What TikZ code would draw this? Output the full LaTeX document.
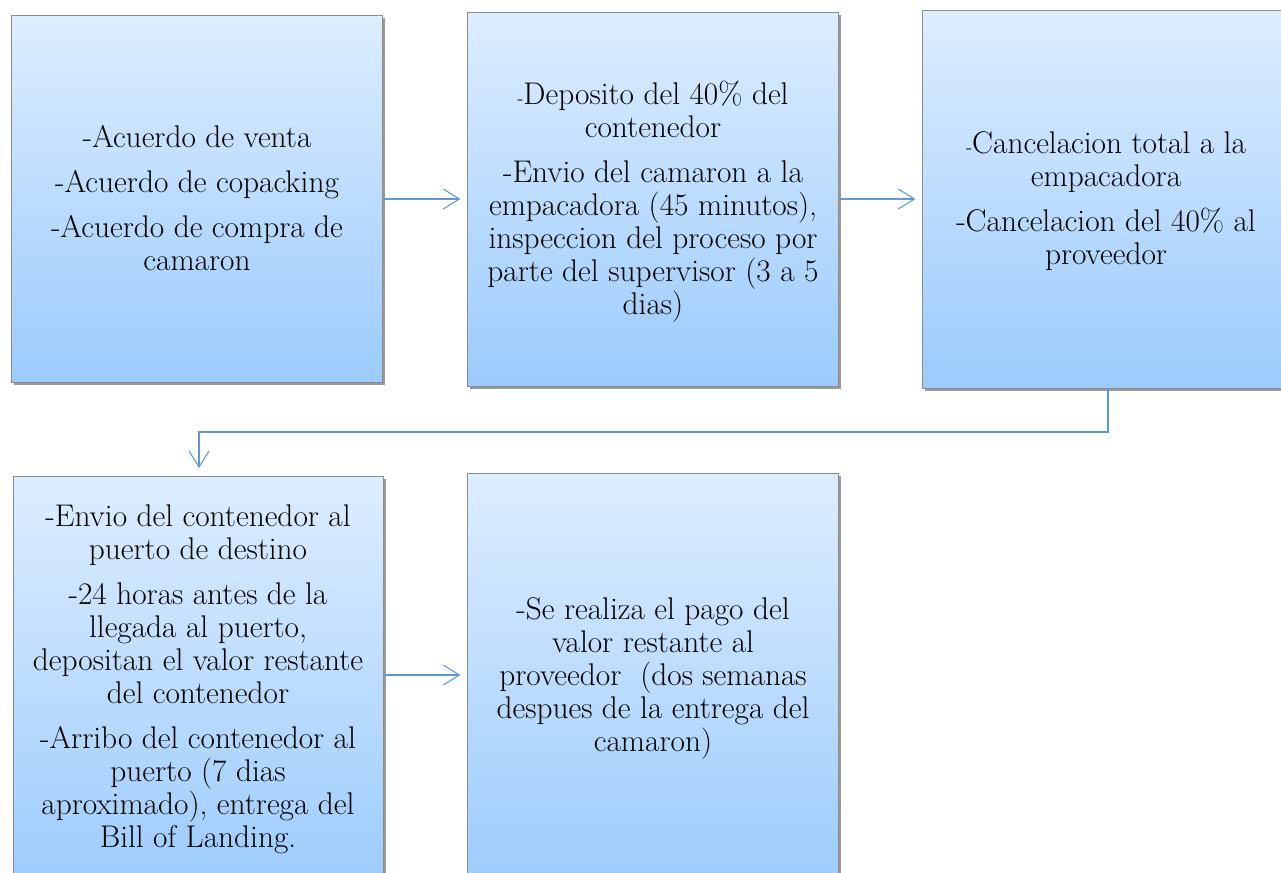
\documentclass[tikz,border=0pt]{standalone}
\usetikzlibrary{arrows.meta,shadows}
\definecolor{boxtop}{RGB}{221,237,254}
\definecolor{boxbot}{RGB}{155,203,253}
\definecolor{boxedge}{RGB}{140,140,140}
\definecolor{arrowc}{RGB}{91,155,213}
\newcommand{\sh}{{\fontsize{14}{15}\selectfont -}}
\tikzset{
  stagebox/.style={draw=boxedge, line width=0.8pt, top color=boxtop, bottom color=boxbot,
    drop shadow={shadow xshift=1.5pt, shadow yshift=-2pt, opacity=0.4, fill=black},
    anchor=north west, inner sep=0pt},
  boxtext/.style={align=center, font=\rmfamily\fontsize{23.5}{24.75}\selectfont, inner sep=0pt},
  flow/.style={draw=arrowc, line width=0.8pt, -{Straight Barb[length=12pt,width=15pt,line width=0.8pt]}}
}
\begin{document}
\begin{tikzpicture}[x=0.75pt,y=-0.75pt]
\useasboundingbox (0,0) rectangle (1281,873);
\fill[white] (0,0) rectangle (1281,873);
% boxes
\node[stagebox, minimum width=371*0.75pt, minimum height=367*0.75pt] (b1) at (11,15) {};
\node[stagebox, minimum width=371*0.75pt, minimum height=374*0.75pt] (b2) at (467,12) {};
\node[stagebox, minimum width=371*0.75pt, minimum height=378*0.75pt] (b3) at (922,10) {};
\node[stagebox, minimum width=370*0.75pt, minimum height=420*0.75pt] (b4) at (13,476) {};
\node[stagebox, minimum width=371*0.75pt, minimum height=420*0.75pt] (b5) at (467,473) {};
% texts
\node[boxtext] (t1) at (197,198) {-Acuerdo de venta\\[9pt]-Acuerdo de copacking\\[9pt]-Acuerdo de compra de\\camaron};
\node[boxtext] (t2) at (653,202) {\sh Deposito del 40\% del\\contenedor\\[9pt]-Envio del camaron a la\\empacadora (45 minutos),\\inspeccion del proceso por\\parte del supervisor (3 a 5\\dias)};
\node[boxtext] (t3) at (1106,201) {\sh Cancelacion total a la\\empacadora\\[9pt]-Cancelacion del 40\% al\\proveedor};
\node[boxtext] (t4) at (198,679) {-Envio del contenedor al\\puerto de destino\\[9pt]-24 horas antes de la\\llegada al puerto,\\depositan el valor restante\\del contenedor\\[9pt]-Arribo del contenedor al\\puerto (7 dias\\aproximado), entrega del\\Bill of Landing.};
\node[boxtext] (t5) at (653,678) {-Se realiza el pago del\\valor restante al\\proveedor\ \ (dos semanas\\despues de la entrega del\\camaron)};
% connectors
\draw[flow, shorten >=5pt] (b1.east |- 0,199) -- (b2.west |- 0,199);
\draw[flow, shorten >=5pt] (b2.east |- 0,199) -- (b3.west |- 0,199);
\coordinate (c1) at (1108,432);
\coordinate (c2) at (199,432);
\draw[flow, shorten >=6pt] (b3.south -| c1) -- (c1) -- (c2) -- (c2 |- b4.north);
\draw[flow, shorten >=5pt] (b4.east |- 0,675) -- (b5.west |- 0,675);
\end{tikzpicture}
\end{document}
